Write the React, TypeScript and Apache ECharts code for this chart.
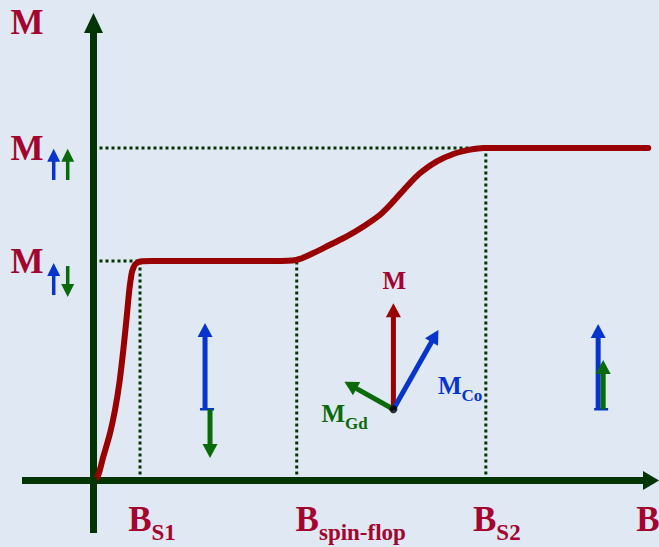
import React, { useEffect, useRef } from 'react';
import * as echarts from 'echarts';

// ---- axis ranges (field B, magnetisation M in arbitrary units) ----
const X_MIN = 0;
const X_MAX = 14.21;
const Y_MIN = 0;
const Y_MAX = 4.128;

// ---- characteristic fields and magnetisation levels ----
const B_S1 = 1.186;
const B_SF = 5.18;
const B_S2 = 10.0;
const M_AF = 1.98; // M ↑↓
const M_SAT = 3.0; // M ↑↑

const X_TICKS = [B_S1, B_SF, B_S2, X_MAX];
const X_TICK_SUBS = ['S1', 'spin-flop', 'S2', ''];
const Y_LEVELS = [M_AF, M_SAT];

// ---- magnetisation curve M(B) ----
const CURVE_B = [0, 0.107, 0.25, 0.421, 0.548, 0.658, 0.76, 0.847, 0.913, 0.974, 1.02, 1.07, 1.186, 1.5, 3.0, 4.6, 5.163, 5.604, 6.03, 6.456, 6.879, 7.305, 7.644, 7.986, 8.325, 8.751, 9.174, 9.6, 9.939, 10.36, 12.0, 14.14];
const CURVE_M = [0, 0.034, 0.215, 0.426, 0.636, 0.877, 1.179, 1.479, 1.72, 1.871, 1.922, 1.952, 1.976, 1.98, 1.98, 1.98, 1.99, 2.052, 2.127, 2.202, 2.292, 2.398, 2.518, 2.653, 2.774, 2.879, 2.946, 2.985, 3.0, 3.0, 3.0, 3.0];

// ---- dotted guide lines [from, to] ----
const GUIDES = [
  [[0, M_SAT], [B_S2, M_SAT]],
  [[0, M_AF], [B_S1, M_AF]],
  [[B_S1, 0], [B_S1, M_AF]],
  [[B_SF, 0], [B_SF, M_AF]],
  [[B_S2, 0], [B_S2, M_SAT]],
];

// ---- moment arrows [x1, y1, x2, y2] in data units ----
const ARROWS = [
  [2.843, 0.643, 2.843, 1.422], // ferri: M_Co up
  [2.97, 0.643, 2.97, 0.203], // ferri: M_Gd down
  [7.644, 0.643, 7.644, 1.6], // spin-flop: net M
  [7.644, 0.643, 8.791, 1.359], // spin-flop: M_Co
  [7.644, 0.643, 6.395, 0.891], // spin-flop: M_Gd
  [12.863, 0.643, 12.863, 1.413], // forced ferro: M_Co
  [12.991, 0.643, 12.991, 1.088], // forced ferro: M_Gd
];
const PIVOT = [7.644, 0.643];

// ---- styles ----
const BG = '#dfe8f3';
const TXT_RED = '#a3052e';
const CURVE_RED = '#990000';
const AXIS_GREEN = '#033503';
const BLUE = '#0535cc';
const GREEN = '#0a6a0a';
const SERIF = '"Liberation Serif", "Times New Roman", serif';

type ArrowStyle = {
  color: string;
  width: number;
  headLen: number;
  headW: number;
  cap?: [number, number];
  label?: { text: string; dx: number; dy: number; align: string; color: string };
};

const ARROW_STYLES: ArrowStyle[] = [
  { color: BLUE, width: 5, headLen: 14, headW: 15, cap: [5, 9] },
  { color: GREEN, width: 5, headLen: 14, headW: 15 },
  { color: CURVE_RED, width: 5, headLen: 14, headW: 15, label: { text: '{m|M}', dx: 1, dy: -23, align: 'center', color: TXT_RED } },
  { color: BLUE, width: 5, headLen: 14, headW: 15, label: { text: '{m|M}{s|Co}', dx: -0.5, dy: 55.5, align: 'left', color: BLUE } },
  { color: GREEN, width: 5, headLen: 14, headW: 15, label: { text: '{m|M}{s|Gd}', dx: -23, dy: 32, align: 'left', color: GREEN } },
  { color: BLUE, width: 5, headLen: 14, headW: 15, cap: [4, 10] },
  { color: GREEN, width: 5, headLen: 14, headW: 15 },
];

function arrowShapes(p1: number[], p2: number[], color: string, width: number, headLen: number, headW: number) {
  const dx = p2[0] - p1[0];
  const dy = p2[1] - p1[1];
  const len = Math.hypot(dx, dy) || 1;
  const ux = dx / len;
  const uy = dy / len;
  const nx = -uy;
  const ny = ux;
  const bx = p2[0] - ux * headLen;
  const by = p2[1] - uy * headLen;
  return [
    {
      type: 'line',
      shape: { x1: p1[0], y1: p1[1], x2: bx + ux * 2, y2: by + uy * 2 },
      style: { stroke: color, lineWidth: width, lineCap: 'butt', fill: null },
    },
    {
      type: 'polygon',
      shape: {
        points: [
          [p2[0], p2[1]],
          [bx + (nx * headW) / 2, by + (ny * headW) / 2],
          [bx - (nx * headW) / 2, by - (ny * headW) / 2],
        ],
      },
      style: { fill: color, stroke: null },
    },
  ];
}

export default function App() {
  const ref = useRef<HTMLDivElement>(null);

  useEffect(() => {
    if (!ref.current) return;
    const chart = echarts.init(ref.current, null, { renderer: 'svg' });

    const subRich = (color: string, size: number, lh: number, padTop: number) => ({
      fontSize: size,
      fontWeight: 'bold',
      fontFamily: SERIF,
      color,
      fill: color,
      lineHeight: lh,
      padding: [padTop, 0, 0, 0],
    });
    const mainRich = (color: string, size: number, lh: number, pad: number[]) => ({
      fontSize: size,
      fontWeight: 'bold',
      fontFamily: SERIF,
      color,
      fill: color,
      lineHeight: lh,
      padding: pad,
    });

    const guideSeries = GUIDES.map((seg) => ({
      type: 'line',
      data: seg,
      symbol: 'none',
      silent: true,
      clip: false,
      z: 2,
      lineStyle: { color: AXIS_GREEN, width: 3, type: [3, 3] },
    }));

    const option: any = {
      animation: false,
      backgroundColor: BG,
      grid: { left: 93.5, right: 8, top: 23, bottom: 66.5, containLabel: false, outerBoundsMode: 'none' },
      xAxis: {
        type: 'value',
        min: X_MIN,
        max: X_MAX,
        axisLine: {
          show: true,
          onZero: false,
          symbol: ['none', 'triangle'],
          symbolSize: [19, 16],
          lineStyle: { color: AXIS_GREEN, width: 7 },
        },
        axisTick: { show: false },
        splitLine: { show: false },
        axisLabel: {
          customValues: X_TICKS,
          margin: 19,
          align: 'center',
          verticalAlign: 'top',
          formatter: (v: number) => {
            let k = X_TICKS.findIndex((t) => Math.abs(t - v) < 1e-6);
            if (k < 0) k = 3;
            const sub = X_TICK_SUBS[k];
            return `{b${k}|B}` + (sub ? `{s|${sub}}` : '');
          },
          rich: {
            b0: mainRich(TXT_RED, 35, 40, [0, 0, 0, 24]),
            b1: mainRich(TXT_RED, 35, 40, [0, 0, 0, 108]),
            b2: mainRich(TXT_RED, 35, 40, [0, 0, 0, 22]),
            b3: mainRich(TXT_RED, 35, 40, [0, 6, 0, 0]),
            s: subRich(TXT_RED, 23, 40, 26),
          },
        },
      },
      yAxis: {
        type: 'value',
        min: Y_MIN,
        max: Y_MAX,
        name: 'M',
        nameLocation: 'end',
        nameGap: 0.5,
        nameMoveOverlap: false,
        nameTextStyle: {
          fontSize: 35,
          fontWeight: 'bold',
          fontFamily: SERIF,
          color: TXT_RED,
          align: 'right',
          verticalAlign: 'middle',
          padding: [0, 50, 0, 0],
        },
        axisLine: {
          show: true,
          onZero: false,
          symbol: ['none', 'triangle'],
          symbolSize: [19, 20],
          lineStyle: { color: AXIS_GREEN, width: 7 },
        },
        axisTick: { show: false },
        splitLine: { show: false },
        axisLabel: {
          customValues: Y_LEVELS,
          formatter: () => 'M',
          margin: 50,
          fontSize: 35,
          fontWeight: 'bold',
          fontFamily: SERIF,
          color: TXT_RED,
          padding: [0, 0, 16, 0],
        },
      },
      series: [
        ...guideSeries,
        {
          type: 'line',
          name: 'M(B)',
          data: CURVE_B.map((b, i) => [b, CURVE_M[i]]),
          smooth: 0.3,
          symbol: 'none',
          silent: true,
          clip: false,
          z: 3,
          lineStyle: { color: CURVE_RED, width: 6, cap: 'round', join: 'round' },
        },
        {
          type: 'custom',
          name: 'moments',
          data: ARROWS,
          z: 4,
          silent: true,
          clip: false,
          renderItem: (params: any, api: any) => {
            const i = params.dataIndex;
            const st = ARROW_STYLES[i];
            const p1 = api.coord([api.value(0), api.value(1)]);
            const p2 = api.coord([api.value(2), api.value(3)]);
            const children: any[] = arrowShapes(p1, p2, st.color, st.width, st.headLen, st.headW);
            if (st.cap) {
              children.push({
                type: 'line',
                shape: { x1: p1[0] - st.cap[0], y1: p1[1], x2: p1[0] + st.cap[1], y2: p1[1] },
                style: { stroke: st.color, lineWidth: 2.5 },
              });
            }
            if (st.label) {
              children.push({
                type: 'text',
                x: p2[0] + st.label.dx,
                y: p2[1] + st.label.dy,
                style: {
                  text: st.label.text,
                  align: st.label.align,
                  verticalAlign: 'middle',
                  rich: {
                    m: mainRich(st.label.color, 25, 30, [0, 0, 0, 0]),
                    s: subRich(st.label.color, 17, 30, 20),
                  },
                },
              });
            }
            return { type: 'group', children };
          },
        },
        {
          type: 'scatter',
          name: 'pivot',
          data: [PIVOT],
          symbolSize: 8,
          silent: true,
          z: 5,
          itemStyle: { color: '#000000' },
        },
      ],
    };

    chart.setOption(option);

    const ax0 = chart.convertToPixel({ xAxisIndex: 0 }, 0) as number;
    const ay0 = chart.convertToPixel({ yAxisIndex: 0 }, 0) as number;
    const ySat = chart.convertToPixel({ yAxisIndex: 0 }, M_SAT) as number;
    const yAf = chart.convertToPixel({ yAxisIndex: 0 }, M_AF) as number;

    // axis stubs that reach past the origin (the diagram's cross of axes)
    const stubs = [
      { type: 'line', shape: { x1: ax0 - 71.5, y1: ay0, x2: ax0 + 3, y2: ay0 }, style: { stroke: AXIS_GREEN, lineWidth: 7 } },
      { type: 'line', shape: { x1: ax0, y1: ay0 - 3, x2: ax0, y2: ay0 + 52.5 }, style: { stroke: AXIS_GREEN, lineWidth: 7 } },
    ];

    // small spin arrows next to the level labels
    const xb = ax0 - 39.8;
    const xg = ax0 - 25.8;
    const small = (x: number, y1: number, y2: number, c: string) => arrowShapes([x, y1], [x, y2], c, 3.5, 13, 13);
    const graphic = [
      ...stubs,
      ...small(xb, ySat + 32, ySat + 0.7, BLUE),
      ...small(xg, ySat + 32, ySat + 0.7, GREEN),
      ...small(xb, yAf + 34, yAf + 2, BLUE),
      ...small(xg, yAf + 5, yAf + 36, GREEN),
    ].map((el) => ({ ...el, silent: true, z: 10 }));
    chart.setOption({ graphic });

    return () => chart.dispose();
  }, []);

  return <div ref={ref} style={{ position: 'absolute', left: 0, top: 0, width: 659, height: 547 }} />;
}
